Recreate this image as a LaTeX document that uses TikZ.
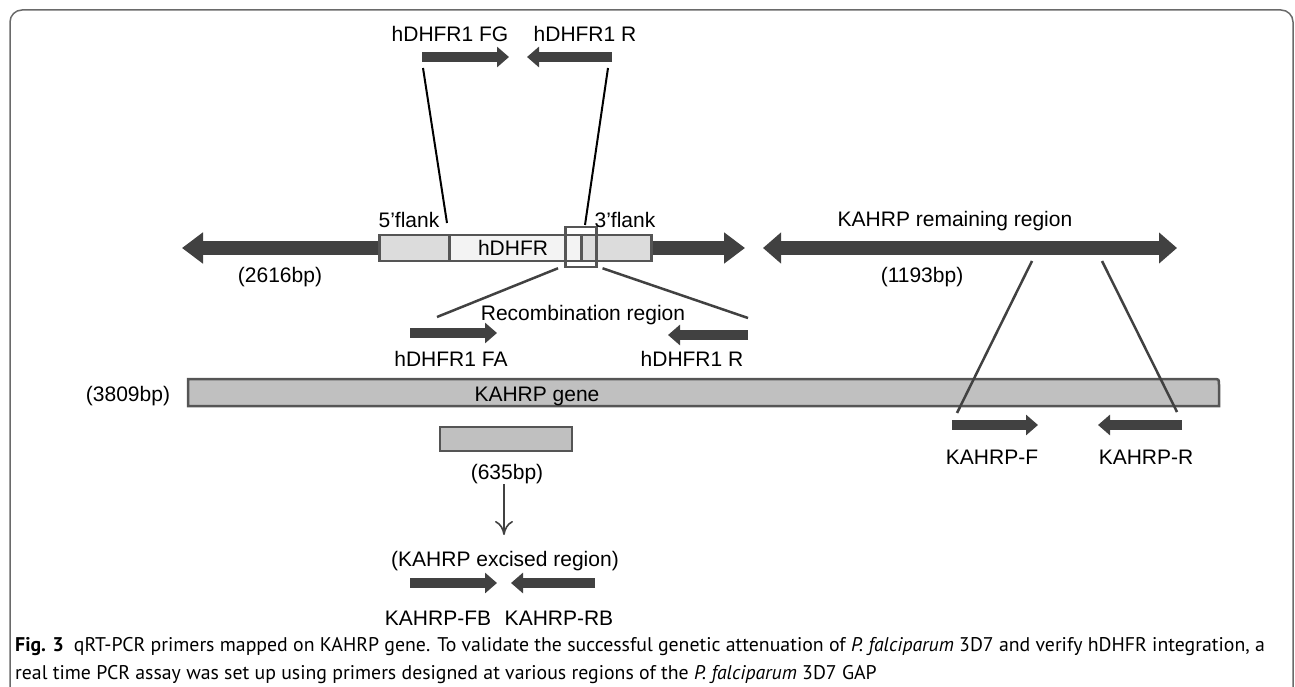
\documentclass[tikz,border=0pt]{standalone}
\usepackage{fontspec}
\setmainfont{Liberation Sans}
\newfontfamily\capfont{PT Sans}
\usetikzlibrary{arrows.meta}
\definecolor{dk}{HTML}{414141}
\definecolor{edge}{HTML}{555555}
\definecolor{flank}{HTML}{DCDCDC}
\definecolor{hd}{HTML}{F3F3F3}
\definecolor{gene}{HTML}{C0C0C0}
\definecolor{framec}{HTML}{6A6A6A}
\tikzset{
  primer/.style={line width=10pt, draw=dk, -{Triangle[length=12pt,width=20pt]}},
  bigarrow/.style={line width=14pt, draw=dk, -{Triangle[length=21pt,width=30pt]}},
  dblarrow/.style={line width=14pt, draw=dk, {Triangle[length=18pt,width=30pt]}-{Triangle[length=18pt,width=30pt]}},
  lbl/.style={font=\fontsize{21}{25}\selectfont, inner sep=0pt, anchor=base},
  seg/.style={draw=edge, line width=2.5pt},
  blackline/.style={draw=black, line width=2pt},
  grayline/.style={draw=dk, line width=2.5pt},
  capstyle/.style={inner sep=0, anchor=base west, font=\capfont\fontsize{19.8}{27}\selectfont},
}
\begin{document}
\begin{tikzpicture}[x=1pt,y=-1pt]
\useasboundingbox (0,0) rectangle (1295,687);
% frame
\draw[framec, line width=1.5pt, rounded corners=12pt] (10,700) -- (10,10) -- (1293,10) -- (1293,700);

% top primers
\node[lbl] (tFG) at (450,42) {hDHFR1 FG};
\node[lbl] (tR) at (585,42) {hDHFR1 R};
\coordinate (fgA) at (422,57); \coordinate (fgB) at (509,57);
\coordinate (rA) at (612,57); \coordinate (rB) at (527,57);
\draw[primer] (fgA) -- (fgB);
\draw[primer] (rA) -- (rB);

% main construct
\coordinate (L) at (378,248);
\coordinate (Ltip) at (182,248);
\coordinate (Rr) at (650,248);
\coordinate (Rtip) at (745,248);
\draw[bigarrow] (L) -- (Ltip);
\draw[bigarrow] (Rr) -- (Rtip);
\node[seg, fill=flank, minimum width=70pt, minimum height=26pt, inner sep=0, anchor=west] (f5) at (378,248) {};
\node[seg, fill=hd, minimum width=132pt, minimum height=26pt, inner sep=0, anchor=west] (hdhfr) at (448,248) {};
\node[seg, fill=flank, minimum width=70pt, minimum height=26pt, inner sep=0, anchor=west] (f3) at (580,248) {};
\node[seg, minimum width=31pt, minimum height=40pt, inner sep=0, anchor=west] (recbox) at (564,247) {};
\node[lbl] at (513,255) {hDHFR};
\node[lbl] (l5) at (409,227) {5’flank};
\node[lbl] (l3) at (625,227) {3’flank};
\node[lbl] at (280,282) {(2616bp)};

\coordinate (c1) at (423,68); \coordinate (c2) at (447,223);
\coordinate (c3) at (608,68); \coordinate (c4) at (585,225);
\draw[blackline] (c1) -- (c2);
\draw[blackline] (c3) -- (c4);

% KAHRP remaining region
\coordinate (kA) at (763,248); \coordinate (kB) at (1177,248);
\draw[dblarrow] (kA) -- (kB);
\node[lbl] at (955,226) {KAHRP remaining region};
\node[lbl] at (922,282) {(1193bp)};

% recombination
\coordinate (r1) at (437,317); \coordinate (r2) at (748,318);
\draw[grayline] (recbox.south west) ++(-6,0) -- (r1);
\draw[grayline] (recbox.south east) ++(5,0) -- (r2);
\node[lbl] at (583,320) {Recombination region};
\coordinate (faA) at (410,333); \coordinate (faB) at (497,333);
\draw[primer] (faA) -- (faB);
\coordinate (r2A) at (748,335); \coordinate (r2B) at (668,335);
\draw[primer] (r2A) -- (r2B);
\node[lbl] at (451,366) {hDHFR1 FA};
\node[lbl] at (692,366) {hDHFR1 R};

% KAHRP gene
\draw[seg, fill=gene] (188,379) -- (1213,379) .. controls (1219,379) .. (1219,385) -- (1219,406) -- (188,406) -- cycle;
\node[lbl] at (128,401) {(3809bp)};
\node[lbl] at (537,401) {KAHRP gene};

% remaining region lines to primers
\coordinate (d1) at (1032,261); \coordinate (d2) at (957,413);
\coordinate (d3) at (1102,261); \coordinate (d4) at (1177,412);
\draw[grayline] (d1) -- (d2);
\draw[grayline] (d3) -- (d4);
\coordinate (kfA) at (952,425); \coordinate (kfB) at (1038,425);
\draw[primer] (kfA) -- (kfB);
\coordinate (krA) at (1182,425); \coordinate (krB) at (1098,425);
\draw[primer] (krA) -- (krB);
\node[lbl] at (992,464) {KAHRP-F};
\node[lbl] at (1146,464) {KAHRP-R};

% excised region
\node[seg, fill=gene, minimum width=132pt, minimum height=24pt, inner sep=0] (exbox) at (506,439) {};
\node[lbl] (t635) at (507,479) {(635bp)};
\node[lbl] (texc) at (505,566) {(KAHRP excised region)};
\draw[draw=dk, line width=1.6pt, -{To[length=14pt,width=18pt,line width=1.6pt]}] (504,484) -- (504,535);
\coordinate (fbA) at (410,583); \coordinate (fbB) at (497,583);
\draw[primer] (fbA) -- (fbB);
\coordinate (rbA) at (595,583); \coordinate (rbB) at (511,583);
\draw[primer] (rbA) -- (rbB);
\node[lbl] at (438,625) {KAHRP-FB};
\node[lbl] at (559,625) {KAHRP-RB};

% caption
\node[capstyle] (cap1) at (15,651) {\textbf{Fig. 3}\enspace qRT-PCR primers mapped on KAHRP gene. To validate the successful genetic attenuation of \textit{P. falciparum} 3D7 and verify hDHFR integration, a};
\node[capstyle] (cap2) at (15,679) {real time PCR assay was set up using primers designed at various regions of the \textit{P. falciparum} 3D7 GAP};
\end{tikzpicture}
\end{document}
